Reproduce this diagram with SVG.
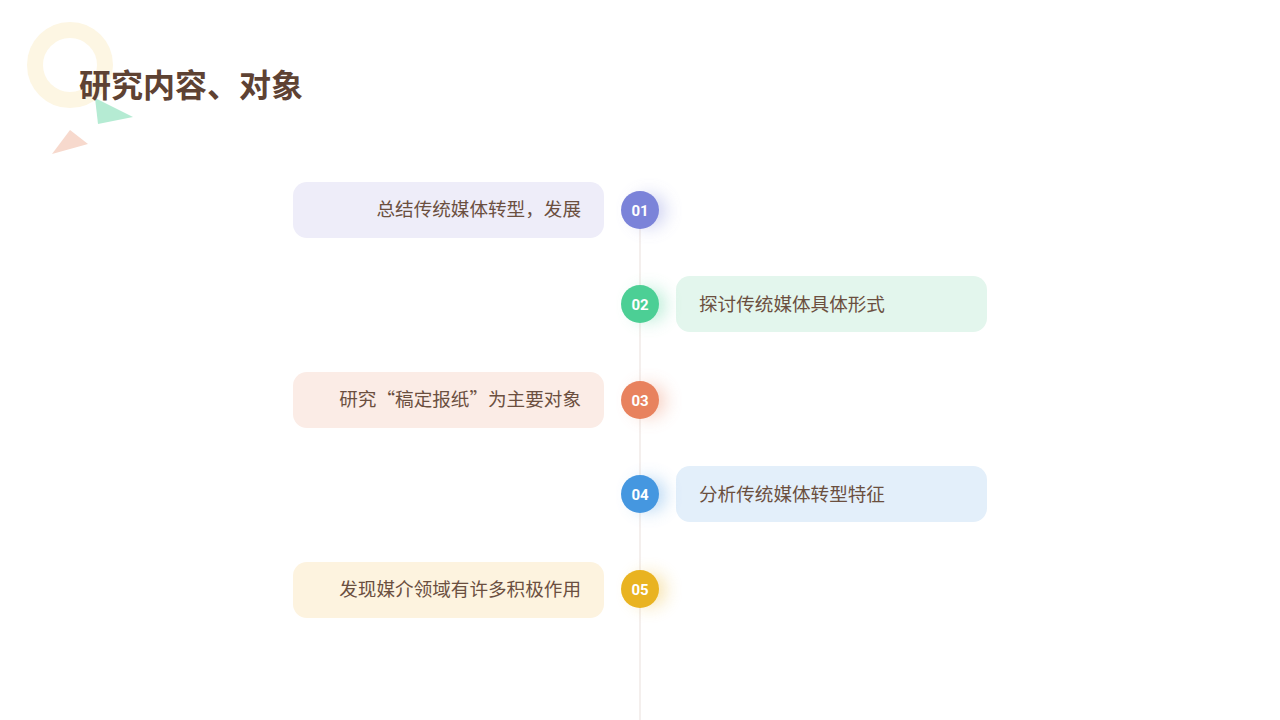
<svg xmlns="http://www.w3.org/2000/svg" width="1280" height="720" viewBox="0 0 1280 720">
<defs>
<filter id="glow" x="-150%" y="-150%" width="400%" height="400%"><feGaussianBlur stdDeviation="9"/></filter>
<style>
.t{font-family:"Noto Sans CJK SC","Noto Sans",sans-serif;font-size:18.6px;fill:#6b4f3f}
.n{font-family:Roboto,"Liberation Sans",sans-serif;font-size:15px;font-weight:bold;fill:#fff;text-anchor:middle}
.title{font-family:"Noto Sans CJK SC",sans-serif;font-size:32px;font-weight:bold;fill:#5e4233}
</style>
</defs>
<rect width="1280" height="720" fill="#fff"/>
<g id="decor">
<circle cx="70" cy="65" r="35" fill="none" stroke="#fdf6e3" stroke-width="16"/>
<polygon points="95,98 98,124 133,117" fill="#b5ebd3"/>
<polygon points="52,154 70,130 88,144" fill="#f7d9cd"/>
</g>
<text id="title" class="title" x="79" y="97">研究内容、对象</text>
<g id="connectors">
<line x1="640" y1="210" x2="640" y2="720" stroke="#f4efed" stroke-width="2"/>
</g>
<g id="n1">
<rect x="293" y="182" width="311" height="56" rx="14" fill="#eeedf9"/>
<text class="t" x="581" y="216" text-anchor="end">总结传统媒体转型，发展</text>
<circle cx="649" cy="211" r="16" fill="#7b83d9" opacity="0.4" filter="url(#glow)"/>
<circle cx="640" cy="210" r="19" fill="#7b83d9"/>
<text class="n" x="640" y="215.5">01</text>
</g>
<g id="n2">
<rect x="676" y="276" width="311" height="56" rx="14" fill="#e3f6ed"/>
<text class="t" x="699" y="311">探讨传统媒体具体形式</text>
<circle cx="649" cy="305" r="16" fill="#4ccf95" opacity="0.4" filter="url(#glow)"/>
<circle cx="640" cy="304" r="19" fill="#4ccf95"/>
<text class="n" x="640" y="309.5">02</text>
</g>
<g id="n3">
<rect x="293" y="372" width="311" height="56" rx="14" fill="#fbece6"/>
<text class="t" x="581" y="406" text-anchor="end">研究“稿定报纸”为主要对象</text>
<circle cx="649" cy="401" r="16" fill="#e8825e" opacity="0.4" filter="url(#glow)"/>
<circle cx="640" cy="400" r="19" fill="#e8825e"/>
<text class="n" x="640" y="405.5">03</text>
</g>
<g id="n4">
<rect x="676" y="466" width="311" height="56" rx="14" fill="#e3effa"/>
<text class="t" x="699" y="501">分析传统媒体转型特征</text>
<circle cx="649" cy="495" r="16" fill="#4597e0" opacity="0.4" filter="url(#glow)"/>
<circle cx="640" cy="494" r="19" fill="#4597e0"/>
<text class="n" x="640" y="499.5">04</text>
</g>
<g id="n5">
<rect x="293" y="562" width="311" height="56" rx="14" fill="#fdf3df"/>
<text class="t" x="581" y="596" text-anchor="end">发现媒介领域有许多积极作用</text>
<circle cx="649" cy="590" r="16" fill="#e9b321" opacity="0.4" filter="url(#glow)"/>
<circle cx="640" cy="589" r="19" fill="#e9b321"/>
<text class="n" x="640" y="594.5">05</text>
</g>
</svg>
